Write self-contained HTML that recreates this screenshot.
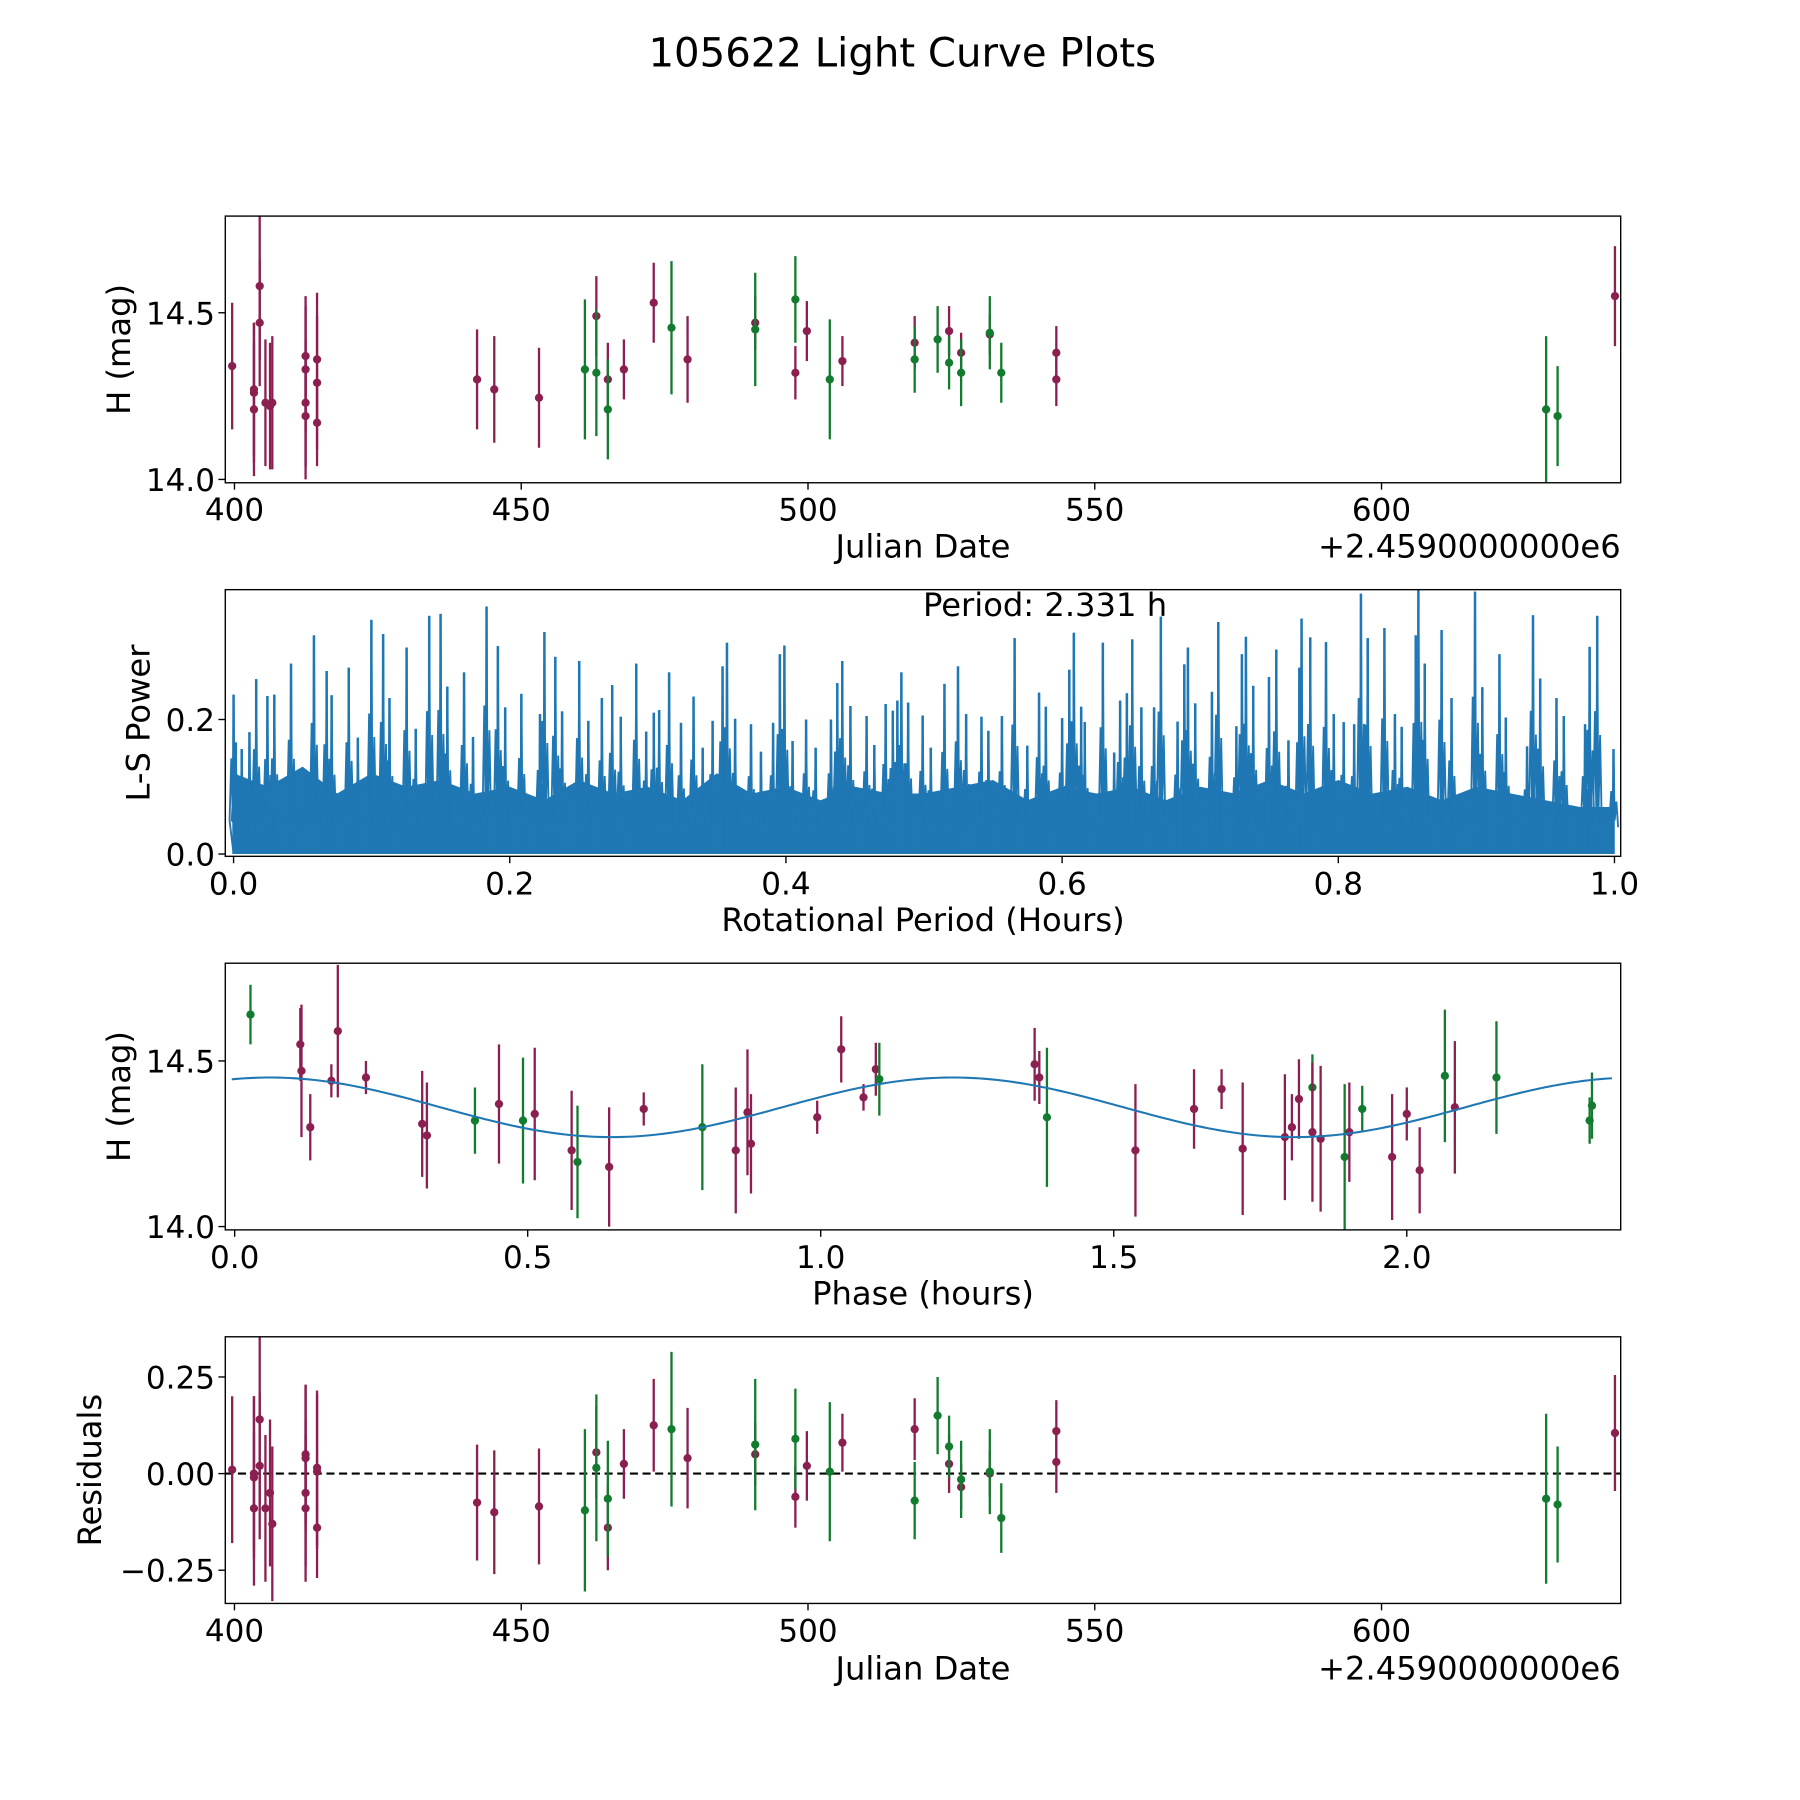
<!DOCTYPE html>
<html><head><meta charset="utf-8">
<style>
html,body{margin:0;padding:0;background:#fff;}
svg{display:block;font-family:"DejaVu Sans","Liberation Sans",sans-serif;}
</style></head>
<body>
<svg id="fig" width="1800" height="1800" viewBox="0 0 1566 1566" xmlns="http://www.w3.org/2000/svg">
<rect x="0" y="0" width="1566" height="1566" fill="#fff"/>
<text x="785" y="58" font-size="35" text-anchor="middle" fill="#000">105622 Light Curve Plots</text>
</svg>
<script>
// ---- observation data (Julian date offset from 2459000) ----
const dates=[399.6,403.4,403.4,403.4,404.4,404.4,405.4,406.2,406.6,412.4,412.4,412.4,412.4,414.4,414.4,414.4,442.3,445.3,453.1,461.1,463.1,463.1,465.1,465.1,467.9,473.1,476.2,479.0,490.8,490.8,497.8,497.8,499.8,503.8,506.0,518.6,518.6,522.6,524.6,524.6,526.7,526.7,531.7,531.7,533.7,543.3,543.3,628.7,630.7,640.7];
const mags=[14.34,14.27,14.26,14.21,14.58,14.47,14.23,14.22,14.23,14.37,14.33,14.23,14.19,14.36,14.29,14.17,14.30,14.27,14.245,14.33,14.49,14.32,14.30,14.21,14.33,14.53,14.455,14.36,14.47,14.45,14.32,14.54,14.445,14.30,14.355,14.41,14.36,14.42,14.445,14.35,14.38,14.32,14.435,14.44,14.32,14.38,14.30,14.21,14.19,14.55];
const errs=[0.19,0.2,0.21,0.2,0.22,0.19,0.19,0.19,0.2,0.18,0.19,0.19,0.19,0.2,0.2,0.13,0.15,0.16,0.15,0.21,0.12,0.19,0.11,0.15,0.09,0.12,0.2,0.13,0.08,0.17,0.08,0.13,0.09,0.18,0.075,0.08,0.1,0.1,0.075,0.08,0.06,0.1,0.06,0.11,0.09,0.08,0.08,0.22,0.15,0.15];
const filters=['m','m','m','m','m','m','m','m','m','m','m','m','m','m','m','m','m','m','m','g','m','g','m','g','m','m','g','m','m','g','m','g','m','g','m','m','g','g','m','g','m','g','m','g','g','m','m','g','g','m'];
const resid=[0.01,0.0,-0.01,-0.09,0.14,0.02,-0.09,-0.05,-0.13,0.05,0.04,-0.05,-0.09,0.015,0.005,-0.14,-0.075,-0.10,-0.085,-0.095,0.055,0.015,-0.14,-0.065,0.025,0.125,0.115,0.04,0.05,0.075,-0.06,0.09,0.02,0.005,0.08,0.115,-0.07,0.15,0.025,0.07,-0.035,-0.015,0.0,0.005,-0.115,0.11,0.03,-0.065,-0.08,0.105];
// ---- phased data ----
const phases=[0.027,0.112,0.114,0.129,0.165,0.176,0.224,0.32,0.328,0.41,0.451,0.492,0.512,0.575,0.585,0.639,0.698,0.798,0.855,0.875,0.881,0.994,1.035,1.073,1.094,1.1,1.365,1.373,1.386,1.537,1.637,1.684,1.72,1.792,1.804,1.816,1.839,1.839,1.853,1.894,1.902,1.924,1.975,2.0,2.022,2.065,2.082,2.153,2.312,2.316];
const pmags=[14.64,14.55,14.47,14.30,14.44,14.59,14.45,14.31,14.275,14.32,14.37,14.32,14.34,14.23,14.195,14.18,14.355,14.30,14.23,14.345,14.25,14.33,14.535,14.39,14.475,14.445,14.49,14.45,14.33,14.23,14.355,14.415,14.235,14.27,14.30,14.385,14.42,14.285,14.265,14.21,14.285,14.355,14.21,14.34,14.17,14.455,14.36,14.45,14.32,14.365];
const perrs=[0.09,0.11,0.2,0.1,0.05,0.2,0.05,0.16,0.16,0.1,0.18,0.19,0.2,0.18,0.17,0.18,0.05,0.19,0.19,0.19,0.15,0.05,0.1,0.04,0.08,0.11,0.11,0.08,0.21,0.2,0.12,0.06,0.2,0.19,0.1,0.12,0.1,0.21,0.22,0.22,0.15,0.07,0.19,0.08,0.13,0.2,0.2,0.17,0.07,0.1];
const pfilters=['g','m','m','m','m','m','m','m','m','g','m','g','m','m','g','m','m','g','m','m','m','m','m','m','m','g','m','m','g','m','m','m','m','m','m','m','g','m','m','g','m','g','m','m','m','g','m','g','g','g'];
const fitParams=[14.36,0.09,0.06,1.1655]; // mean, amplitude, phase of max, sub-period
// ---- periodogram ----
const spikeP=[0,0.0016,0.0059,0.0115,0.0164,0.0245,0.0295,0.0416,0.0582,0.0674,0.071,0.0834,0.09,0.0998,0.1083,0.1129,0.1253,0.1319,0.1417,0.1499,0.1548,0.1669,0.1734,0.1832,0.1914,0.1967,0.2084,0.2219,0.2251,0.233,0.2379,0.2503,0.2569,0.2667,0.2742,0.2804,0.2916,0.2988,0.3043,0.3082,0.3154,0.324,0.3331,0.3397,0.3469,0.3541,0.3573,0.3632,0.3747,0.3819,0.3907,0.3956,0.3989,0.4048,0.4146,0.4215,0.4326,0.4372,0.4408,0.4467,0.4584,0.464,0.4722,0.4774,0.4807,0.4836,0.4885,0.499,0.5049,0.5148,0.5246,0.5305,0.5416,0.5466,0.5564,0.5656,0.5748,0.5833,0.5882,0.6,0.6052,0.6085,0.6138,0.6164,0.6295,0.6377,0.642,0.6469,0.6508,0.6574,0.6666,0.6715,0.6836,0.6885,0.6911,0.6964,0.7085,0.7131,0.7262,0.7302,0.7331,0.7384,0.7498,0.7551,0.7639,0.7718,0.7734,0.7797,0.7911,0.7967,0.8039,0.8115,0.8164,0.8213,0.8334,0.841,0.8459,0.8561,0.858,0.8626,0.8748,0.882,0.899,0.9043,0.9167,0.9213,0.9367,0.941,0.9462,0.958,0.9633,0.9787,0.982,0.9875,0.9993];
const spikePow=[0.237,0.166,0.156,0.181,0.26,0.235,0.237,0.283,0.325,0.272,0.236,0.277,0.173,0.348,0.327,0.232,0.307,0.186,0.354,0.357,0.249,0.27,0.174,0.368,0.309,0.218,0.238,0.208,0.33,0.293,0.212,0.287,0.198,0.232,0.251,0.204,0.283,0.182,0.21,0.214,0.27,0.195,0.234,0.158,0.198,0.279,0.314,0.201,0.193,0.152,0.195,0.297,0.31,0.168,0.2,0.158,0.2,0.254,0.287,0.22,0.205,0.162,0.223,0.213,0.228,0.27,0.225,0.206,0.158,0.253,0.279,0.208,0.204,0.183,0.205,0.321,0.161,0.24,0.219,0.202,0.274,0.329,0.219,0.196,0.314,0.151,0.228,0.239,0.319,0.218,0.218,0.353,0.197,0.282,0.307,0.224,0.241,0.345,0.19,0.297,0.323,0.25,0.263,0.304,0.169,0.277,0.35,0.322,0.315,0.208,0.196,0.193,0.387,0.321,0.336,0.208,0.189,0.325,0.393,0.283,0.333,0.232,0.39,0.248,0.297,0.203,0.16,0.355,0.261,0.232,0.205,0.193,0.308,0.354,0.156];
const bandP=[0,0.025,0.05,0.075,0.1,0.125,0.15,0.175,0.2,0.225,0.25,0.275,0.3,0.325,0.35,0.375,0.4,0.425,0.45,0.475,0.5,0.525,0.55,0.575,0.6,0.625,0.65,0.675,0.7,0.725,0.75,0.775,0.8,0.825,0.85,0.875,0.9,0.925,0.95,0.975,1.0];
const bandPow=[0.12,0.1,0.13,0.09,0.12,0.1,0.11,0.09,0.1,0.08,0.11,0.09,0.1,0.08,0.12,0.09,0.1,0.08,0.1,0.09,0.09,0.1,0.11,0.08,0.1,0.09,0.1,0.08,0.1,0.09,0.11,0.09,0.11,0.09,0.1,0.08,0.1,0.09,0.08,0.07,0.07];
// ---- ticks ----
const jdTicks=[400,450,500,550,600];
const magTicks=[14.0,14.5];
const powTicks=[0.0,0.2];
const perTicks=[0.0,0.2,0.4,0.6,0.8,1.0];
const phaseTicks=[0.0,0.5,1.0,1.5,2.0];
const resTicks=[-0.25,0.0,0.25];

const NS='http://www.w3.org/2000/svg';
const svg=document.getElementById('fig');
const MAROON='#8a1f50', GREEN='#137b2f', BLUE='#1f77b4';
const FS=27;
function mk(tag,attrs,parent){const e=document.createElementNS(NS,tag);for(const k in attrs)e.setAttribute(k,attrs[k]);(parent||svg).appendChild(e);return e;}
function lin(d0,d1,r0,r1){return v=>r0+(v-d0)/(d1-d0)*(r1-r0);}
const L=196,R=1410;
function frame(name,top,bot,xs,ys,xt,yt,xfmt,yfmt){
  const g=mk('g',{});
  
  
  xt.forEach(t=>{const x=xs(t);
    const tk=mk('line',{x1:x,x2:x,y1:bot,y2:bot+6,stroke:'#000','stroke-width':1.2},g);
    
    
    const tx=mk('text',{x:x,y:bot+33,'font-size':FS,'text-anchor':'middle'},g);tx.textContent=xfmt(t);
    
    
  });
  yt.forEach(t=>{const y=ys(t);
    const tk=mk('line',{x1:L-6,x2:L,y1:y,y2:y,stroke:'#000','stroke-width':1.2},g);
    
    
    const tx=mk('text',{x:L-9,y:y+10,'font-size':FS,'text-anchor':'end'},g);tx.textContent=yfmt(t);
    
    
  });
  return g;
}
function border(top,bot){const r=mk('rect',{x:L,y:top,width:R-L,height:bot-top,fill:'none',stroke:'#000','stroke-width':1.2});
  
  }
function label(txt,x,y,rot,name){const t=mk('text',{x:x,y:y,'font-size':28,'text-anchor':'middle',transform:rot?`rotate(-90 ${x} ${y})`:''});t.textContent=txt;
  
  }
function errpt(g,x,y,y1,y2,c){
  const l=mk('line',{x1:x,x2:x,y1:y1,y2:y2,stroke:c,'stroke-width':2},g);
  
  
  const p=mk('circle',{cx:x,cy:y,r:3.6,fill:c},g);
  
  
}
const f1=v=>v.toFixed(1), f0=v=>String(v);
const rf=v=>(v<0?'\u2212':'')+Math.abs(v).toFixed(2);

// Panel 1
{const top=188,bot=420;
 const xs=lin(398.4,641.7,L,R), ys=lin(13.99,14.79,bot,top);
 const g=frame('light-curve-panel',top,bot,xs,ys,jdTicks,magTicks,f0,f1);
 dates.forEach((d,i)=>errpt(g,xs(d),ys(mags[i]),Math.max(top,ys(mags[i]+errs[i])),Math.min(bot,ys(mags[i]-errs[i])),filters[i]==='m'?MAROON:GREEN));
 border(top,bot);
 label('Julian Date',803,485,false,'x-axis-title');
 const o=mk('text',{x:R,y:485,'font-size':28,'text-anchor':'end'});o.textContent='+2.4590000000e6';
 
 
 label('H (mag)',113,304,true,'y-axis-title');
}
// Panel 2
{const top=513,bot=745;
 const xs=lin(-0.006,1.0045,L,R), ys=lin(-0.0034,0.393,bot,top);
 const g=frame('periodogram-panel',top,bot,xs,ys,perTicks,powTicks,f1,f1);
 let d='M'+xs(bandP[0])+' '+ys(0);
 bandP.forEach((p,i)=>{d+=' L'+xs(p)+' '+ys(bandPow[i]);});
 d+=' L'+xs(1)+' '+ys(0)+' Z';
 const band=mk('path',{d:d,fill:BLUE,stroke:'none'},g);
 
 
 let z='M'+xs(0)+' '+ys(0);
 spikeP.forEach((p,i)=>{const xm=xs(p);
   z+=' L'+(xm-3.5)+' '+ys(0.05)+' L'+(xm-2)+' '+ys(spikePow[i]*0.6)+' L'+(xm-0.8)+' '+ys(0.06)+' L'+xm+' '+ys(spikePow[i])+' L'+(xm+1)+' '+ys(0.05)+' L'+(xm+2.5)+' '+ys(spikePow[i]*0.5)+' L'+(xm+4)+' '+ys(0.04);});
 const zz=mk('path',{d:z,fill:'none',stroke:BLUE,'stroke-width':1.6},g);
 
 
 spikeP.forEach((p,i)=>{
  const s=mk('line',{x1:xs(p),x2:xs(p),y1:ys(0),y2:ys(spikePow[i]),stroke:BLUE,'stroke-width':2.2},g);
  
  
 });
 border(top,bot);
 const t=mk('text',{x:803,y:536,'font-size':28});t.textContent='Period: 2.331 h';
 
 
 label('Rotational Period (Hours)',803,810,false,'x-axis-title');
 label('L-S Power',130,629,true,'y-axis-title');
}
// Panel 3
{const top=838,bot=1070;
 const xs=lin(-0.016,2.365,L,R), ys=lin(13.99,14.795,bot,top);
 const g=frame('phased-curve-panel',top,bot,xs,ys,phaseTicks,magTicks,f1,f1);
 let d='';
 for(let k=0;k<=240;k++){const p=-0.005+k*2.355/240;
   const m=fitParams[0]+fitParams[1]*Math.cos(2*Math.PI*(p-fitParams[2])/fitParams[3]);
   d+=(k?' L':'M')+xs(p)+' '+ys(m);}
 phases.forEach((p,i)=>errpt(g,xs(p),ys(pmags[i]),Math.max(top,ys(pmags[i]+perrs[i])),Math.min(bot,ys(pmags[i]-perrs[i])),pfilters[i]==='m'?MAROON:GREEN));
 const c=mk('path',{d:d,fill:'none',stroke:BLUE,'stroke-width':1.8},g);
 
 
 border(top,bot);
 label('Phase (hours)',803,1135,false,'x-axis-title');
 label('H (mag)',113,954,true,'y-axis-title');
}
// Panel 4
{const top=1163,bot=1395;
 const xs=lin(398.4,641.7,L,R), ys=lin(-0.336,0.354,bot,top);
 const g=frame('residuals-panel',top,bot,xs,ys,jdTicks,resTicks,f0,rf);
 const z=mk('line',{x1:L,x2:R,y1:ys(0),y2:ys(0),stroke:'#000','stroke-width':1.8,'stroke-dasharray':'7,4'},g);
 
 
 dates.forEach((d,i)=>errpt(g,xs(d),ys(resid[i]),Math.max(top,ys(resid[i]+errs[i])),Math.min(bot,ys(resid[i]-errs[i])),filters[i]==='m'?MAROON:GREEN));
 border(top,bot);
 label('Julian Date',803,1461,false,'x-axis-title');
 const o=mk('text',{x:R,y:1461,'font-size':28,'text-anchor':'end'});o.textContent='+2.4590000000e6';
 
 
 label('Residuals',88,1279,true,'y-axis-title');
}
</script>
</body></html>
